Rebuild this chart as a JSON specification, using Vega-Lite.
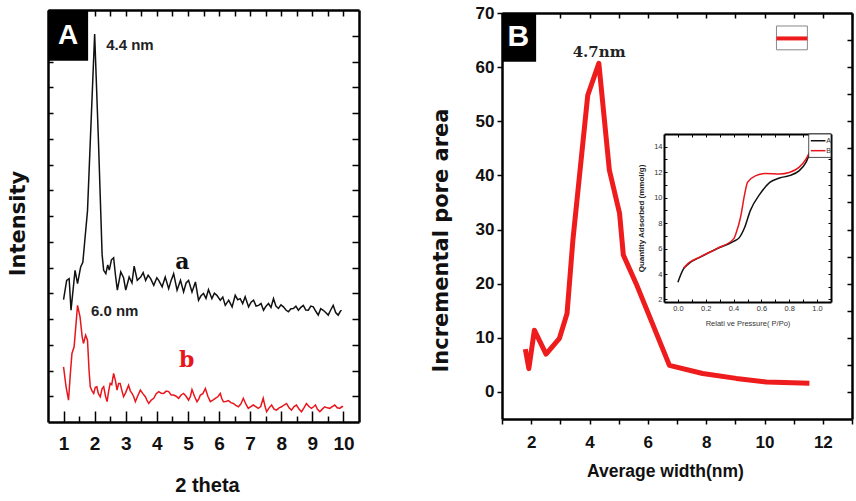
{
  "$schema": "https://vega.github.io/schema/vega-lite/v6.json",
  "width": 856,
  "height": 501,
  "autosize": {"type": "none"},
  "padding": 0,
  "background": "white",
  "config": {
    "view": {"stroke": null},
    "axis": {"grid": false, "domainColor": "black", "tickColor": "black", "labelOverlap": false, "labelFlush": false, "labelBound": false, "labelColor": "#111", "titleColor": "#111"}
  },
  "datasets": {
    "xrdA": [
      {"t":1.0,"v":4.75},{"t":1.1,"v":5.5},{"t":1.18,"v":5.57},{"t":1.24,"v":4.34},{"t":1.37,"v":5.89},{"t":1.45,"v":5.37},{"t":1.55,"v":6.02},{"t":1.62,"v":6.2},{"t":1.68,"v":7.0},{"t":1.77,"v":8.2},{"t":1.88,"v":11.5},{"t":2.0,"v":15.07},{"t":2.12,"v":11.0},{"t":2.2,"v":8.0},{"t":2.24,"v":6.5},{"t":2.29,"v":5.89},{"t":2.36,"v":5.76},{"t":2.42,"v":6.1},{"t":2.47,"v":5.9},{"t":2.54,"v":6.3},{"t":2.61,"v":6.38},{"t":2.67,"v":5.7},{"t":2.73,"v":5.12},{"t":2.84,"v":5.83},{"t":2.93,"v":5.6},{"t":3.0,"v":5.12},{"t":3.11,"v":5.63},{"t":3.2,"v":5.4},{"t":3.27,"v":6.05},{"t":3.37,"v":5.5},{"t":3.48,"v":5.63},{"t":3.56,"v":5.8},{"t":3.64,"v":5.5},{"t":3.72,"v":5.7},{"t":3.8,"v":5.57},{"t":3.9,"v":5.31},{"t":4.0,"v":5.6},{"t":4.06,"v":5.5},{"t":4.17,"v":5.25},{"t":4.27,"v":5.63},{"t":4.38,"v":5.18},{"t":4.46,"v":5.5},{"t":4.54,"v":5.76},{"t":4.65,"v":5.12},{"t":4.76,"v":5.5},{"t":4.86,"v":5.05},{"t":4.94,"v":5.4},{"t":5.02,"v":5.5},{"t":5.13,"v":5.05},{"t":5.24,"v":5.44},{"t":5.34,"v":4.73},{"t":5.42,"v":4.9},{"t":5.5,"v":4.99},{"t":5.58,"v":4.8},{"t":5.66,"v":5.14},{"t":5.77,"v":4.79},{"t":5.85,"v":5.0},{"t":5.93,"v":4.92},{"t":6.04,"v":4.73},{"t":6.12,"v":4.85},{"t":6.2,"v":4.53},{"t":6.31,"v":4.73},{"t":6.42,"v":4.47},{"t":6.52,"v":4.92},{"t":6.6,"v":4.75},{"t":6.68,"v":4.79},{"t":6.76,"v":4.6},{"t":6.84,"v":4.86},{"t":6.95,"v":4.47},{"t":7.03,"v":4.65},{"t":7.11,"v":4.73},{"t":7.19,"v":4.5},{"t":7.27,"v":4.53},{"t":7.35,"v":4.6},{"t":7.43,"v":4.34},{"t":7.51,"v":4.5},{"t":7.59,"v":4.6},{"t":7.67,"v":4.45},{"t":7.75,"v":4.79},{"t":7.83,"v":4.5},{"t":7.91,"v":4.41},{"t":7.99,"v":4.55},{"t":8.07,"v":4.47},{"t":8.15,"v":4.35},{"t":8.23,"v":4.28},{"t":8.31,"v":4.4},{"t":8.39,"v":4.41},{"t":8.47,"v":4.5},{"t":8.55,"v":4.34},{"t":8.63,"v":4.45},{"t":8.71,"v":4.53},{"t":8.79,"v":4.35},{"t":8.87,"v":4.34},{"t":8.95,"v":4.5},{"t":9.03,"v":4.47},{"t":9.11,"v":4.3},{"t":9.19,"v":4.15},{"t":9.27,"v":4.4},{"t":9.35,"v":4.34},{"t":9.43,"v":4.25},{"t":9.51,"v":4.15},{"t":9.59,"v":4.35},{"t":9.67,"v":4.53},{"t":9.75,"v":4.25},{"t":9.83,"v":4.15},{"t":9.9,"v":4.3},{"t":9.94,"v":4.34}
    ],
    "xrdB": [
      {"t":1.0,"v":2.14},{"t":1.08,"v":1.37},{"t":1.16,"v":0.85},{"t":1.22,"v":1.9},{"t":1.27,"v":2.66},{"t":1.34,"v":2.92},{"t":1.4,"v":3.8},{"t":1.45,"v":4.53},{"t":1.53,"v":4.08},{"t":1.6,"v":3.3},{"t":1.64,"v":3.05},{"t":1.71,"v":3.37},{"t":1.77,"v":3.18},{"t":1.82,"v":2.0},{"t":1.86,"v":1.37},{"t":1.92,"v":1.2},{"t":1.97,"v":1.11},{"t":2.02,"v":1.35},{"t":2.07,"v":1.37},{"t":2.12,"v":1.1},{"t":2.18,"v":0.98},{"t":2.24,"v":1.3},{"t":2.29,"v":1.37},{"t":2.35,"v":1.0},{"t":2.4,"v":0.79},{"t":2.45,"v":1.2},{"t":2.5,"v":1.5},{"t":2.55,"v":1.45},{"t":2.61,"v":1.89},{"t":2.67,"v":1.6},{"t":2.72,"v":1.24},{"t":2.77,"v":1.5},{"t":2.82,"v":1.5},{"t":2.88,"v":1.2},{"t":2.93,"v":0.98},{"t":3.0,"v":1.15},{"t":3.09,"v":1.43},{"t":3.15,"v":1.2},{"t":3.2,"v":1.11},{"t":3.25,"v":1.0},{"t":3.31,"v":0.79},{"t":3.38,"v":1.0},{"t":3.47,"v":1.24},{"t":3.55,"v":1.1},{"t":3.63,"v":0.98},{"t":3.68,"v":0.85},{"t":3.74,"v":0.72},{"t":3.82,"v":0.85},{"t":3.9,"v":0.92},{"t":3.98,"v":1.1},{"t":4.06,"v":1.18},{"t":4.14,"v":1.12},{"t":4.22,"v":1.11},{"t":4.3,"v":1.2},{"t":4.38,"v":1.18},{"t":4.46,"v":1.05},{"t":4.54,"v":1.05},{"t":4.62,"v":1.0},{"t":4.7,"v":0.92},{"t":4.78,"v":1.05},{"t":4.86,"v":1.11},{"t":4.94,"v":1.0},{"t":5.02,"v":0.85},{"t":5.08,"v":1.0},{"t":5.13,"v":1.26},{"t":5.21,"v":1.0},{"t":5.29,"v":0.79},{"t":5.35,"v":0.9},{"t":5.4,"v":1.05},{"t":5.48,"v":1.1},{"t":5.56,"v":1.3},{"t":5.64,"v":1.0},{"t":5.72,"v":0.79},{"t":5.8,"v":0.85},{"t":5.88,"v":0.92},{"t":5.96,"v":0.98},{"t":6.04,"v":1.11},{"t":6.09,"v":0.9},{"t":6.14,"v":0.79},{"t":6.22,"v":0.8},{"t":6.3,"v":0.83},{"t":6.38,"v":0.75},{"t":6.46,"v":0.72},{"t":6.54,"v":0.65},{"t":6.62,"v":0.59},{"t":6.7,"v":0.7},{"t":6.78,"v":0.92},{"t":6.86,"v":0.7},{"t":6.94,"v":0.53},{"t":7.02,"v":0.6},{"t":7.1,"v":0.66},{"t":7.18,"v":0.6},{"t":7.26,"v":0.53},{"t":7.34,"v":0.6},{"t":7.42,"v":0.92},{"t":7.48,"v":0.6},{"t":7.53,"v":0.4},{"t":7.61,"v":0.55},{"t":7.69,"v":0.66},{"t":7.77,"v":0.5},{"t":7.85,"v":0.46},{"t":7.93,"v":0.55},{"t":8.01,"v":0.59},{"t":8.09,"v":0.66},{"t":8.17,"v":0.72},{"t":8.25,"v":0.55},{"t":8.33,"v":0.46},{"t":8.41,"v":0.6},{"t":8.49,"v":0.66},{"t":8.57,"v":0.5},{"t":8.65,"v":0.4},{"t":8.73,"v":0.55},{"t":8.81,"v":0.72},{"t":8.89,"v":0.6},{"t":8.97,"v":0.53},{"t":9.05,"v":0.6},{"t":9.1,"v":0.66},{"t":9.16,"v":0.5},{"t":9.24,"v":0.4},{"t":9.32,"v":0.5},{"t":9.4,"v":0.59},{"t":9.48,"v":0.55},{"t":9.56,"v":0.53},{"t":9.64,"v":0.6},{"t":9.72,"v":0.66},{"t":9.8,"v":0.55},{"t":9.88,"v":0.53},{"t":9.95,"v":0.6},{"t":9.99,"v":0.59}
    ],
    "pore": [
      {"w":1.8,"a":7.9},{"w":1.92,"a":4.3},{"w":2.11,"a":11.4},{"w":2.51,"a":7.0},{"w":2.97,"a":9.9},{"w":3.23,"a":14.5},{"w":3.43,"a":28},{"w":3.94,"a":54.8},{"w":4.32,"a":60.7},{"w":4.68,"a":41},{"w":5.03,"a":33},{"w":5.16,"a":25.3},{"w":5.6,"a":20},{"w":6.74,"a":4.9},{"w":7.88,"a":3.4},{"w":9.03,"a":2.5},{"w":10.06,"a":1.85},{"w":11.54,"a":1.6}
    ],
    "isoA": [
      {"p":0.0,"q":3.36},{"p":0.04,"q":4.4},{"p":0.076,"q":4.8},{"p":0.16,"q":5.32},{"p":0.28,"q":5.98},{"p":0.4,"q":6.57},{"p":0.44,"q":6.84},{"p":0.48,"q":7.67},{"p":0.52,"q":8.98},{"p":0.59,"q":10.29},{"p":0.66,"q":11.2},{"p":0.73,"q":11.54},{"p":0.8,"q":11.73},{"p":0.87,"q":12.1},{"p":0.92,"q":12.77},{"p":0.945,"q":13.4}
    ],
    "isoB": [
      {"p":0.04,"q":4.45},{"p":0.076,"q":4.85},{"p":0.16,"q":5.35},{"p":0.28,"q":6.0},{"p":0.4,"q":6.76},{"p":0.42,"q":7.28},{"p":0.45,"q":8.46},{"p":0.48,"q":10.29},{"p":0.5,"q":11.2},{"p":0.56,"q":11.73},{"p":0.63,"q":11.9},{"p":0.73,"q":11.86},{"p":0.8,"q":11.98},{"p":0.87,"q":12.38},{"p":0.92,"q":13.03},{"p":0.945,"q":13.55}
    ],
    "one": [{}]
  },
  "layer": [
    {
      "resolve": {"scale": {"x": "shared", "y": "shared"}, "axis": {"x": "independent", "y": "independent"}},
      "layer": [
        {
          "data": {"name": "xrdA"},
          "mark": {"type": "line", "color": "#111", "strokeWidth": 1.5},
          "encoding": {
            "x": {"field": "t", "type": "quantitative",
              "scale": {"domain": [0.5, 10.5], "range": [48, 359], "nice": false, "zero": false},
              "axis": {"orient": "bottom", "offset": -79, "values": [1,2,3,4,5,6,7,8,9,10],
                "format": "d", "tickSize": -11, "tickWidth": 1.5, "labelPadding": 23,
                "labelFont": "Liberation Sans", "labelFontSize": 19, "labelFontWeight": "bold",
                "domain": true, "domainWidth": 2.5, "title": "2 theta", "titleFont": "Liberation Sans", "titleFontSize": 20, "titleFontWeight": "bold",
                "titleX": 207, "titleY": 63, "titleBaseline": "middle"}},
            "y": {"field": "v", "type": "quantitative",
              "scale": {"domain": [0, 16], "range": [422, 10], "nice": false, "zero": false},
              "axis": {"orient": "left", "offset": -48, "values": [1,2,3,4,5,6,7,8,9,10,11,12,13,14,15], "labels": false, "tickSize": -5, "tickWidth": 1.5,
                "domain": true, "domainWidth": 2.5, "title": "Intensity", "titleFont": "DejaVu Sans", "titleFontSize": 21, "titleFontWeight": "bold",
                "titleX": -29.5, "titleY": 223, "titleBaseline": "middle"}}
          }
        },
        {
          "data": {"name": "xrdB"},
          "mark": {"type": "line", "color": "#e8161c", "strokeWidth": 1.5},
          "encoding": {
            "x": {"field": "t", "type": "quantitative",
              "axis": {"orient": "top", "offset": -10, "values": [1,1.5,2,2.5,3,3.5,4,4.5,5,5.5,6,6.5,7,7.5,8,8.5,9,9.5,10], "labels": false, "tickSize": -6, "tickWidth": 1.5, "domain": true, "domainWidth": 2.5, "title": null}},
            "y": {"field": "v", "type": "quantitative",
              "axis": {"orient": "right", "offset": -497, "values": [1,2,3,4,5,6,7,8,9,10,11,12,13,14,15], "labels": false, "tickSize": -7, "tickWidth": 1.5, "domain": true, "domainWidth": 2.5, "title": null}}
          }
        },
        {
          "data": {"name": "one"},
          "mark": {"type": "rect", "color": "black"},
          "encoding": {
            "x": {"datum": 0.5, "type": "quantitative", "axis": null}, "x2": {"datum": 1.79},
            "y": {"datum": 16, "type": "quantitative", "axis": null}, "y2": {"datum": 14.03}
          }
        },
        {
          "data": {"name": "one"},
          "mark": {"type": "text", "text": "A", "color": "white", "font": "Liberation Sans", "fontSize": 28, "fontWeight": "bold", "align": "center", "baseline": "middle"},
          "encoding": {"x": {"datum": 1.15, "type": "quantitative", "axis": null}, "y": {"datum": 15.0, "type": "quantitative", "axis": null}}
        },
        {
          "data": {"name": "one"},
          "mark": {"type": "text", "text": "4.4 nm", "color": "#222", "font": "Liberation Sans", "fontSize": 15, "fontWeight": "bold", "align": "left", "baseline": "alphabetic"},
          "encoding": {"x": {"datum": 2.37, "type": "quantitative", "axis": null}, "y": {"datum": 14.45, "type": "quantitative", "axis": null}}
        },
        {
          "data": {"name": "one"},
          "mark": {"type": "text", "text": "6.0 nm", "color": "#222", "font": "Liberation Sans", "fontSize": 15, "fontWeight": "bold", "align": "left", "baseline": "alphabetic"},
          "encoding": {"x": {"datum": 1.88, "type": "quantitative", "axis": null}, "y": {"datum": 4.11, "type": "quantitative", "axis": null}}
        },
        {
          "data": {"name": "one"},
          "mark": {"type": "text", "text": "a", "color": "#111", "font": "DejaVu Serif", "fontSize": 22, "fontWeight": "bold", "align": "center", "baseline": "alphabetic"},
          "encoding": {
            "x": {"datum": 4.82, "type": "quantitative",
              "axis": {"orient": "bottom", "offset": -79, "values": [1.5,2.5,3.5,4.5,5.5,6.5,7.5,8.5,9.5], "labels": false, "domain": false, "tickSize": -6, "tickWidth": 1.5, "title": null}},
            "y": {"datum": 5.93, "type": "quantitative", "axis": null}}
        },
        {
          "data": {"name": "one"},
          "mark": {"type": "text", "text": "b", "color": "#e8161c", "font": "DejaVu Serif", "fontSize": 22, "fontWeight": "bold", "align": "center", "baseline": "alphabetic"},
          "encoding": {"x": {"datum": 4.96, "type": "quantitative", "axis": null}, "y": {"datum": 2.14, "type": "quantitative", "axis": null}}
        }
      ]
    },
    {
      "resolve": {"scale": {"x": "shared", "y": "shared"}, "axis": {"x": "independent", "y": "independent"}},
      "layer": [
        {
          "data": {"name": "pore"},
          "mark": {"type": "line", "color": "#ee1c1c", "strokeWidth": 5, "strokeJoin": "round"},
          "encoding": {
            "x": {"field": "w", "type": "quantitative",
              "scale": {"domain": [1, 13], "range": [502, 852], "nice": false, "zero": false},
              "axis": {"orient": "bottom", "offset": -82, "values": [1,2,3,4,5,6,7,8,9,10,11,12,13],
                "labelExpr": "datum.value % 2 === 0 ? datum.label : ''", "tickSize": 5, "tickWidth": 1.5, "labelPadding": 10,
                "labelFont": "Liberation Sans", "labelFontSize": 17, "labelFontWeight": "bold",
                "domain": true, "domainWidth": 2.5, "title": "Average width(nm)", "titleFont": "Liberation Sans", "titleFontSize": 17.5, "titleFontWeight": "bold",
                "titleX": 665, "titleY": 52, "titleBaseline": "middle"}},
            "y": {"field": "a", "type": "quantitative",
              "scale": {"domain": [-5, 70], "range": [419, 13], "nice": false, "zero": false},
              "axis": {"orient": "left", "offset": -502, "values": [0,10,20,30,40,50,60,70], "tickSize": 5, "tickWidth": 1.5, "labelPadding": 3,
                "labelFont": "Liberation Sans", "labelFontSize": 17, "labelFontWeight": "bold",
                "domain": true, "domainWidth": 2.5, "title": "Incremental pore area", "titleFont": "DejaVu Sans", "titleFontSize": 21, "titleFontWeight": "bold",
                "titleX": -61, "titleY": 240, "titleBaseline": "middle"}}
          }
        },
        {
          "data": {"name": "pore"},
          "mark": {"type": "line", "opacity": 0},
          "encoding": {
            "x": {"field": "w", "type": "quantitative",
              "axis": {"orient": "top", "offset": -13, "values": [1,2,3,4,5,6,7,8,9,10,11,12,13], "labels": false, "tickSize": -5, "tickWidth": 1.5, "domain": true, "domainWidth": 2.5, "title": null}},
            "y": {"field": "a", "type": "quantitative",
              "axis": {"orient": "right", "offset": -4, "values": [0,5,10,15,20,25,30,35,40,45,50,55,60,65], "labels": false, "tickSize": -5, "tickWidth": 1.5, "domain": true, "domainWidth": 2.5, "title": null}}
          }
        },
        {
          "data": {"name": "one"},
          "mark": {"type": "rect", "color": "black"},
          "encoding": {
            "x": {"datum": 1, "type": "quantitative", "axis": null}, "x2": {"datum": 2.17},
            "y": {"datum": 70, "type": "quantitative", "axis": null}, "y2": {"datum": 61}
          }
        },
        {
          "data": {"name": "one"},
          "mark": {"type": "text", "text": "B", "color": "white", "font": "Liberation Sans", "fontSize": 30, "fontWeight": "bold", "align": "center", "baseline": "middle"},
          "encoding": {"x": {"datum": 1.56, "type": "quantitative", "axis": null}, "y": {"datum": 65.6, "type": "quantitative", "axis": null}}
        },
        {
          "data": {"name": "one"},
          "mark": {"type": "text", "text": "4.7nm", "color": "#222", "font": "DejaVu Serif", "fontSize": 15, "fontWeight": "bold", "align": "center", "baseline": "alphabetic"},
          "encoding": {"x": {"datum": 4.33, "type": "quantitative", "axis": null}, "y": {"datum": 61.8, "type": "quantitative", "axis": null}}
        },
        {
          "data": {"name": "one"},
          "mark": {"type": "rect", "fill": "white", "stroke": "#888", "strokeWidth": 1},
          "encoding": {
            "x": {"datum": 10.41, "type": "quantitative", "axis": null}, "x2": {"datum": 11.47},
            "y": {"datum": 67.6, "type": "quantitative", "axis": null}, "y2": {"datum": 63.2}
          }
        },
        {
          "data": {"name": "one"},
          "mark": {"type": "rule", "color": "#ee1c1c", "strokeWidth": 4},
          "encoding": {
            "x": {"datum": 10.41, "type": "quantitative", "axis": null}, "x2": {"datum": 11.47},
            "y": {"datum": 65.3, "type": "quantitative", "axis": null}
          }
        }
      ]
    },
    {
      "resolve": {"scale": {"x": "shared", "y": "shared"}, "axis": {"x": "independent", "y": "independent"}},
      "layer": [
        {
          "data": {"name": "isoA"},
          "mark": {"type": "line", "color": "#111", "strokeWidth": 1.5, "interpolate": "monotone"},
          "encoding": {
            "x": {"field": "p", "type": "quantitative",
              "scale": {"domain": [-0.1, 1.1], "range": [664, 831], "nice": false, "zero": false},
              "axis": {"orient": "bottom", "offset": -199, "values": [0,0.1,0.2,0.3,0.4,0.5,0.6,0.7,0.8,0.9,1.0],
                "labelExpr": "round(datum.value*10) % 2 === 0 ? format(datum.value, '.1f') : ''", "tickSize": -3, "tickWidth": 1, "labelPadding": 5,
                "labelFont": "Liberation Sans", "labelFontSize": 7.5, "labelColor": "#333",
                "domain": true, "domainWidth": 2, "title": "Relati ve Pressure( P/Po)", "titleFont": "Liberation Sans", "titleFontSize": 7.5, "titleFontWeight": "normal", "titleColor": "#333",
                "titleX": 747.5, "titleY": 21.5, "titleBaseline": "middle"}},
            "y": {"field": "q", "type": "quantitative",
              "scale": {"domain": [1.8, 15], "range": [302, 134], "nice": false, "zero": false},
              "axis": {"orient": "left", "offset": -664, "values": [2,3,4,5,6,7,8,9,10,11,12,13,14],
                "labelExpr": "datum.value % 2 === 0 ? datum.label : ''", "tickSize": -3, "tickWidth": 1, "labelPadding": 5,
                "labelFont": "Liberation Sans", "labelFontSize": 7.5, "labelColor": "#333",
                "domain": true, "domainWidth": 2, "title": "Quantity Adsorbed (mmol/g)", "titleFont": "Liberation Sans", "titleFontSize": 8, "titleFontWeight": "bold", "titleColor": "#222",
                "titleX": -23, "titleY": 218, "titleBaseline": "middle"}}
          }
        },
        {
          "data": {"name": "isoB"},
          "mark": {"type": "line", "color": "#e8161c", "strokeWidth": 1.5, "interpolate": "monotone"},
          "encoding": {
            "x": {"field": "p", "type": "quantitative",
              "axis": {"orient": "top", "offset": -134, "values": [0,0.1,0.2,0.3,0.4,0.5,0.6,0.7,0.8,0.9,1.0], "labels": false, "tickSize": -3, "tickWidth": 1, "domain": true, "domainWidth": 2, "title": null}},
            "y": {"field": "q", "type": "quantitative",
              "axis": {"orient": "right", "offset": -25, "values": [2,3,4,5,6,7,8,9,10,11,12,13,14], "labels": false, "tickSize": -3, "tickWidth": 1, "domain": true, "domainWidth": 2, "title": null}}
          }
        },
        {
          "data": {"name": "one"},
          "mark": {"type": "rect", "fill": "white", "stroke": "#222", "strokeWidth": 0.8},
          "encoding": {
            "x": {"datum": 0.94, "type": "quantitative", "axis": null}, "x2": {"datum": 1.1},
            "y": {"datum": 13.16, "type": "quantitative", "axis": null}, "y2": {"datum": 15}
          }
        },
        {
          "data": {"name": "one"},
          "mark": {"type": "rule", "color": "#111", "strokeWidth": 1.5},
          "encoding": {
            "x": {"datum": 0.955, "type": "quantitative", "axis": null}, "x2": {"datum": 1.06},
            "y": {"datum": 14.47, "type": "quantitative", "axis": null}
          }
        },
        {
          "data": {"name": "one"},
          "mark": {"type": "rule", "color": "#e8161c", "strokeWidth": 1.5},
          "encoding": {
            "x": {"datum": 0.955, "type": "quantitative", "axis": null}, "x2": {"datum": 1.06},
            "y": {"datum": 13.69, "type": "quantitative", "axis": null}
          }
        },
        {
          "data": {"name": "one"},
          "mark": {"type": "text", "text": "A", "color": "#333", "font": "Liberation Sans", "fontSize": 7, "align": "left", "baseline": "middle"},
          "encoding": {"x": {"datum": 1.065, "type": "quantitative", "axis": null}, "y": {"datum": 14.47, "type": "quantitative", "axis": null}}
        },
        {
          "data": {"name": "one"},
          "mark": {"type": "text", "text": "B", "color": "#333", "font": "Liberation Sans", "fontSize": 7, "align": "left", "baseline": "middle"},
          "encoding": {"x": {"datum": 1.065, "type": "quantitative", "axis": null}, "y": {"datum": 13.69, "type": "quantitative", "axis": null}}
        }
      ]
    }
  ],
  "resolve": {"scale": {"x": "independent", "y": "independent"}, "axis": {"x": "independent", "y": "independent"}}
}
